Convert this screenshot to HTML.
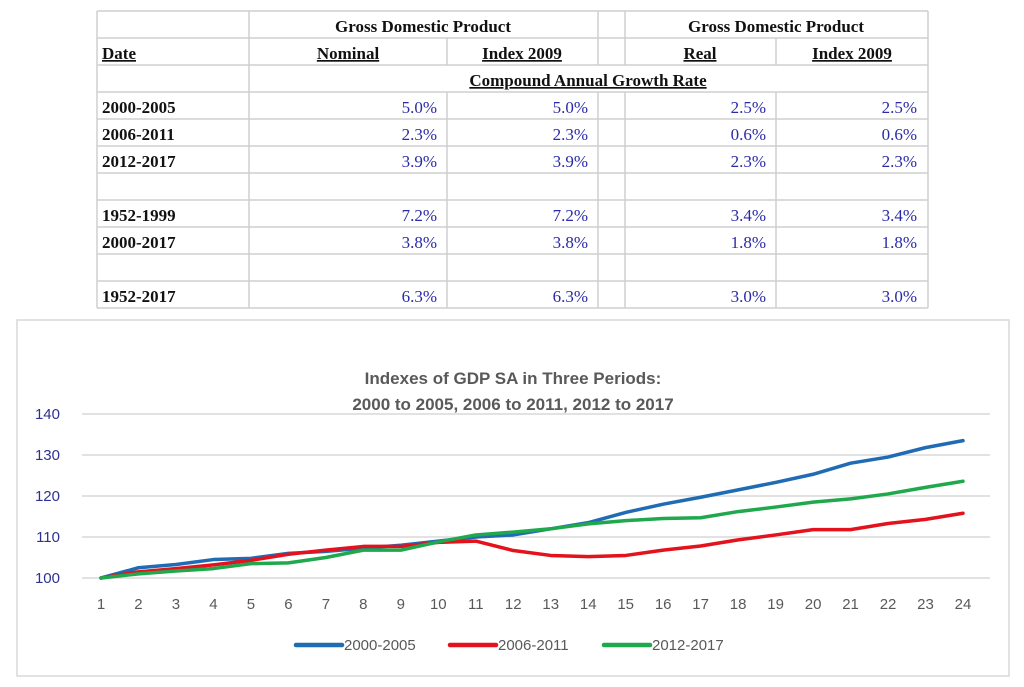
<!DOCTYPE html>
<html><head><meta charset="utf-8"><style>
body{margin:0;background:#fff;width:1024px;height:687px;overflow:hidden}
svg{display:block}
.tb{font-family:"Liberation Serif",serif;font-weight:bold;font-size:17px;fill:#111}
.tv{font-family:"Liberation Serif",serif;font-size:17px;fill:#2a2aa8}
.ax{font-family:"Liberation Sans",sans-serif;font-size:15px;fill:#595959}
</style></head><body>
<svg width="1024" height="687">
<g id="table"></g>
<rect x="17" y="320" width="992" height="356" fill="none" stroke="#d9d9d9" stroke-width="1.5"/>
<text x="513" y="384" text-anchor="middle" font-family="Liberation Sans,sans-serif" font-weight="bold" font-size="17" fill="#595959">Indexes of GDP SA in Three Periods:</text>
<text x="513" y="410" text-anchor="middle" font-family="Liberation Sans,sans-serif" font-weight="bold" font-size="17" fill="#595959">2000 to 2005, 2006 to 2011, 2012 to 2017</text>
<g id="chart"></g>
</svg>
<script>
const xCats=[1,2,3,4,5,6,7,8,9,10,11,12,13,14,15,16,17,18,19,20,21,22,23,24];
const yTicks=[100,110,120,130,140];
const s2000=[100,102.5,103.3,104.5,104.8,106,106.5,107.3,108,109,110,110.5,112,113.5,116,118,119.7,121.5,123.3,125.3,128,129.5,131.8,133.5];
const s2006=[100,101.5,102.3,103.2,104.3,105.8,106.8,107.7,107.7,108.7,109,106.7,105.5,105.2,105.5,106.8,107.8,109.3,110.5,111.8,111.8,113.3,114.3,115.8];
const s2012=[100,101,101.7,102.3,103.5,103.7,105,106.8,106.8,108.8,110.5,111.2,112,113.2,114,114.5,114.7,116.2,117.3,118.5,119.3,120.5,122.1,123.6];
const seriesNames=["2000-2005","2006-2011","2012-2017"];
const tblRows=[["2000-2005","5.0%","5.0%","2.5%","2.5%"],["2006-2011","2.3%","2.3%","0.6%","0.6%"],["2012-2017","3.9%","3.9%","2.3%","2.3%"],null,["1952-1999","7.2%","7.2%","3.4%","3.4%"],["2000-2017","3.8%","3.8%","1.8%","1.8%"],null,["1952-2017","6.3%","6.3%","3.0%","3.0%"]];
const NS="http://www.w3.org/2000/svg";
function mk(tag,attrs,parent,txt){const e=document.createElementNS(NS,tag);for(const k in attrs)e.setAttribute(k,attrs[k]);if(txt!==undefined)e.textContent=txt;parent.appendChild(e);return e;}
const T=document.getElementById('table');
const cx=[97,249,447,598,625,776,928];
const ry=[11,38,65,92,119,146,173,200,227,254,281,308];
for(let i=0;i<ry.length;i++){const l=mk('line',{x1:97,x2:928,y1:ry[i],y2:ry[i],stroke:'#cfcfcf','stroke-width':1.5},T);}
for(let i=0;i<ry.length-1;i++){
  for(let j=0;j<cx.length;j++){
    const x=cx[j];
    if(i===0&&(x===447||x===776))continue;
    if(i===2&&x>249&&x<928)continue;
    const l=mk('line',{x1:x,x2:x,y1:ry[i],y2:ry[i+1],stroke:'#cfcfcf','stroke-width':1.5},T);
    
    
  }
}
function tt(x,y,anchor,cls,s,ul,name){const t=mk('text',{x:x,y:y,'text-anchor':anchor,class:cls},T,s);if(ul)t.setAttribute('text-decoration','underline');}
tt(423,32,'middle','tb','Gross Domestic Product',false,'header-nominal-group');
tt(776,32,'middle','tb','Gross Domestic Product',false,'header-real-group');
tt(102,59,'start','tb','Date',true,'header-date');
tt(348,59,'middle','tb','Nominal',true,'header-nominal');
tt(522,59,'middle','tb','Index 2009',true,'header-index-nominal');
tt(700,59,'middle','tb','Real',true,'header-real');
tt(852,59,'middle','tb','Index 2009',true,'header-index-real');
tt(588,86,'middle','tb','Compound Annual Growth Rate',true,'header-cagr');
const vx=[437,588,766,917];
tblRows.forEach((r,i)=>{if(!r)return;const y=ry[3+i]+21;tt(102,y,'start','tb',r[0],false,'row-label');for(let k=0;k<4;k++)tt(vx[k],y,'end','tv',r[k+1],false,'cell-value');});
const C=document.getElementById('chart');
const x0=101,x1=963,yB=578,yT=414;
const xs=i=>x0+(i)*(x1-x0)/(xCats.length-1);
const ys=v=>yB-(v-100)*(yB-yT)/40;
yTicks.forEach(v=>{const g=mk('line',{x1:82,x2:990,y1:ys(v),y2:ys(v),stroke:'#d9d9d9','stroke-width':1.5},C);
const t=mk('text',{x:60,y:ys(v)+5,'text-anchor':'end','font-family':'Liberation Sans,sans-serif','font-size':15,fill:'#2e3192'},C,v);});
xCats.forEach((c,i)=>{const t=mk('text',{x:xs(i),y:609,'text-anchor':'middle',class:'ax'},C,c);});
const cols=['#1f6bb4','#e3121c','#1fa84c'];
[s2000,s2006,s2012].forEach((s,k)=>{const p=mk('polyline',{points:s.map((v,i)=>xs(i)+','+ys(v)).join(' '),fill:'none',stroke:cols[k],'stroke-width':3.5,'stroke-linejoin':'round','stroke-linecap':'round'},C);});
[296,450,604].forEach((lx,k)=>{const l=mk('line',{x1:lx,x2:lx+46,y1:645,y2:645,stroke:cols[k],'stroke-width':4.5,'stroke-linecap':'round'},C);
const t=mk('text',{x:lx+48,y:650,class:'ax'},C,seriesNames[k]);});
</script>
</body></html>
